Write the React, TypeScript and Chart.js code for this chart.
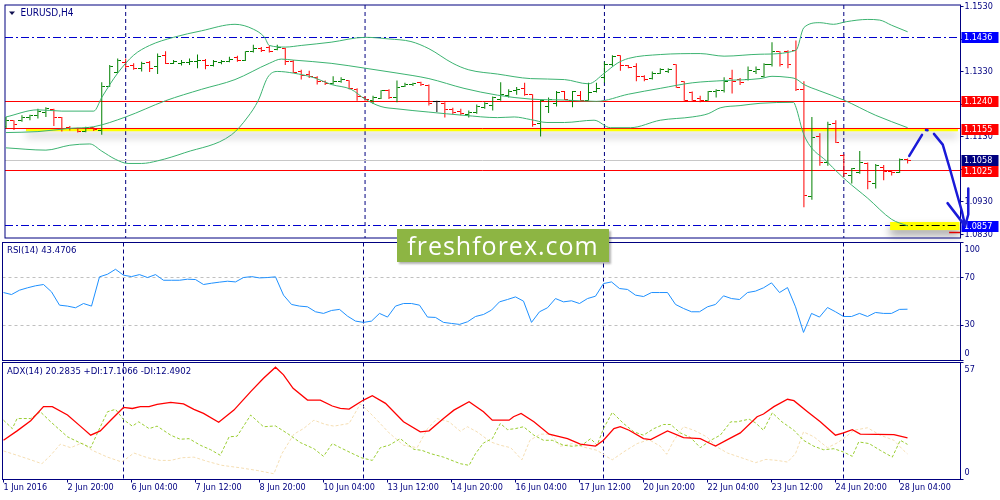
import { useEffect, useRef } from "react";
import { Chart, registerables } from "chart.js";

Chart.register(...registerables);

const FONT = '"DejaVu Sans Condensed", "DejaVu Sans", sans-serif';
const NAVY = "#000080";
const X_MIN = -0.125;
const X_MAX = 119.625;
const PRICE_MIN = 1.08187;
const PRICE_MAX = 1.15354;

// EURUSD H4 bars, index 0 = 1 Jun 12:00 ... 113 = 28 Jun 08:00
const opens = [
  1.1161, 1.1179, 1.1181, 1.1189, 1.1194, 1.1206, 1.1213, 1.1189, 1.1159, 1.1156,
  1.1146, 1.1158, 1.1149, 1.1286, 1.1329, 1.1359, 1.1349, 1.1341, 1.1359, 1.1346,
  1.1381, 1.1356, 1.1356, 1.1359, 1.1361, 1.1366, 1.1349, 1.1358, 1.1363, 1.1373,
  1.1366, 1.1393, 1.1401, 1.1406, 1.1399, 1.1401, 1.1363, 1.1331, 1.1323, 1.1313,
  1.1299, 1.1293, 1.1299, 1.1303, 1.1276, 1.1251, 1.1243, 1.1249, 1.1273, 1.1251,
  1.1285, 1.1291, 1.1296, 1.1289, 1.1238, 1.1233, 1.1213, 1.1209, 1.1199, 1.1206,
  1.1221, 1.1226, 1.1246, 1.1258, 1.1271, 1.1279, 1.1259, 1.1171, 1.1223, 1.1231,
  1.1269, 1.1243, 1.1256, 1.1243, 1.1269, 1.1311, 1.1351, 1.1379, 1.1348, 1.1346,
  1.1316, 1.1309, 1.1326, 1.1331, 1.1351, 1.1299, 1.1266, 1.1249, 1.1243, 1.1269,
  1.1271, 1.1309, 1.1306, 1.1306, 1.1331, 1.1316, 1.1351, 1.1391, 1.1393, 1.1396,
  1.1276, 1.0946, 1.1131, 1.1051, 1.1171, 1.1071, 1.1011, 1.1021, 1.1049, 1.0986,
  1.1036, 1.1023, 1.1021, 1.1061,
];
const highs = [
  1.1191, 1.1181, 1.1196, 1.1198, 1.1216, 1.1221, 1.1216, 1.1191, 1.1163, 1.1158,
  1.1161, 1.1159, 1.1298, 1.1351, 1.1371, 1.1371, 1.1356, 1.1361, 1.1363, 1.1386,
  1.1393, 1.1366, 1.1366, 1.1371, 1.1383, 1.1369, 1.1366, 1.1366, 1.1376, 1.1379,
  1.1393, 1.1413, 1.1406, 1.1411, 1.1413, 1.1404, 1.1366, 1.1336, 1.1333, 1.1316,
  1.1303, 1.1316, 1.1313, 1.1304, 1.1279, 1.1254, 1.1256, 1.1273, 1.1276, 1.1303,
  1.1296, 1.1296, 1.1299, 1.1291, 1.1241, 1.1236, 1.1219, 1.1216, 1.1211, 1.1229,
  1.1236, 1.1254, 1.1298, 1.1276, 1.1283, 1.1296, 1.1261, 1.1243, 1.1251, 1.1271,
  1.1271, 1.1271, 1.1271, 1.1296, 1.1296, 1.1361, 1.1381, 1.1381, 1.1351, 1.1356,
  1.1319, 1.1331, 1.1341, 1.1341, 1.1353, 1.1301, 1.1269, 1.1256, 1.1271, 1.1276,
  1.1313, 1.1336, 1.1311, 1.1346, 1.1346, 1.1356, 1.1421, 1.1393, 1.1396, 1.1426,
  1.1301, 1.1191, 1.1141, 1.1176, 1.1181, 1.1076, 1.1034, 1.1086, 1.1051, 1.1046,
  1.1043, 1.1026, 1.1063, 1.1063,
];
const lows = [
  1.1156, 1.1151, 1.1176, 1.1181, 1.1186, 1.1191, 1.1163, 1.1146, 1.1149, 1.1143,
  1.1144, 1.1148, 1.1136, 1.1283, 1.1326, 1.1341, 1.1336, 1.1331, 1.1329, 1.1323,
  1.1354, 1.1354, 1.1349, 1.1351, 1.1341, 1.1338, 1.1346, 1.1353, 1.1359, 1.1361,
  1.1363, 1.1389, 1.1391, 1.1389, 1.1396, 1.1351, 1.1326, 1.1306, 1.1311, 1.1291,
  1.1289, 1.1291, 1.1296, 1.1276, 1.1241, 1.1241, 1.1231, 1.1246, 1.1246, 1.1236,
  1.1283, 1.1286, 1.1286, 1.1226, 1.1206, 1.1189, 1.1199, 1.1196, 1.1189, 1.1201,
  1.1216, 1.1211, 1.1241, 1.1251, 1.1259, 1.1256, 1.1161, 1.1131, 1.1203, 1.1223,
  1.1243, 1.1221, 1.1241, 1.1241, 1.1266, 1.1296, 1.1346, 1.1333, 1.1341, 1.1301,
  1.1301, 1.1306, 1.1323, 1.1326, 1.1281, 1.1241, 1.1241, 1.1236, 1.1241, 1.1251,
  1.1266, 1.1263, 1.1289, 1.1303, 1.1323, 1.1313, 1.1346, 1.1346, 1.1341, 1.1271,
  1.0913, 1.0936, 1.1041, 1.1041, 1.1111, 1.1006, 1.0986, 1.1016, 1.0969, 1.0971,
  1.0996, 1.1011, 1.1019, 1.1048,
];
const closes = [
  1.1179, 1.1169, 1.1189, 1.1194, 1.1209, 1.1216, 1.1189, 1.1156, 1.1154, 1.1146,
  1.1158, 1.1151, 1.1286, 1.1346, 1.1366, 1.1346, 1.1341, 1.1356, 1.1341, 1.1376,
  1.1356, 1.1361, 1.1359, 1.1363, 1.1366, 1.1349, 1.1361, 1.1361, 1.1369, 1.1366,
  1.1391, 1.1403, 1.1396, 1.1393, 1.1406, 1.1363, 1.1329, 1.1319, 1.1316, 1.1299,
  1.1293, 1.1301, 1.1306, 1.1279, 1.1253, 1.1244, 1.1251, 1.1271, 1.1251, 1.1283,
  1.1291, 1.1294, 1.1291, 1.1231, 1.1238, 1.1213, 1.1206, 1.1201, 1.1206, 1.1223,
  1.1231, 1.1251, 1.1259, 1.1269, 1.1276, 1.1261, 1.1169, 1.1241, 1.1246, 1.1266,
  1.1246, 1.1269, 1.1243, 1.1266, 1.1279, 1.1353, 1.1376, 1.1349, 1.1343, 1.1316,
  1.1306, 1.1326, 1.1336, 1.1336, 1.1283, 1.1243, 1.1243, 1.1241, 1.1269, 1.1273,
  1.1301, 1.1301, 1.1296, 1.1333, 1.1336, 1.1351, 1.1393, 1.1353, 1.1351, 1.1276,
  1.0948, 1.1129, 1.1051, 1.1169, 1.1113, 1.1016, 1.1031, 1.1051, 1.0991, 1.1041,
  1.1023, 1.1019, 1.1061, 1.1058,
];

// Bollinger bands (20), read at knots
const upperX = [0, 4, 7, 11, 12, 14, 16, 18, 21, 24.5, 28.7, 31, 32.4, 33, 35, 37, 40.75, 45, 48, 50.75, 53, 56, 58, 61.6, 65.75, 70, 73, 75, 76.6, 78, 82, 87, 90, 94.5, 99, 100, 102, 103.7, 105.3, 108, 109.5, 111, 113];
const upperY = [1.1191, 1.1213, 1.1209, 1.1209, 1.1251, 1.1326, 1.1381, 1.1411, 1.1436, 1.1456, 1.1476, 1.1461, 1.1436, 1.1411, 1.1406, 1.1411, 1.1421, 1.1436, 1.1431, 1.1423, 1.1401, 1.1356, 1.1336, 1.1323, 1.1309, 1.1306, 1.1293, 1.1326, 1.1356, 1.1371, 1.1383, 1.1386, 1.1378, 1.1384, 1.1396, 1.1466, 1.1481, 1.1476, 1.1484, 1.1491, 1.1489, 1.1473, 1.1453];
const middleX = [0, 4, 8, 11, 15, 20, 24.5, 28.7, 33, 34.5, 36, 40.75, 45, 49, 53, 57.4, 61.6, 65.75, 70, 74, 78, 82, 86, 90, 94.5, 96, 98, 99, 100, 102, 105, 109, 113];
const middleY = [1.1143, 1.1146, 1.1156, 1.1161, 1.1191, 1.1241, 1.1276, 1.1306, 1.1356, 1.1369, 1.1366, 1.1356, 1.1341, 1.1326, 1.1309, 1.1279, 1.1258, 1.1246, 1.1243, 1.1239, 1.1261, 1.1279, 1.1296, 1.1303, 1.1309, 1.1316, 1.1313, 1.1308, 1.1291, 1.1271, 1.1243, 1.1196, 1.1158];
const lowerX = [0, 5, 8, 10.5, 12, 13.7, 15.3, 17, 19, 22.4, 28.25, 30.3, 31.6, 32.8, 34, 36, 38.7, 40.75, 43.25, 45, 47, 49, 53, 57.4, 61.6, 63.7, 65.75, 67.8, 70, 73.7, 75.75, 78.25, 82, 86, 88, 89.5, 92, 94.5, 98.7, 99, 100, 103, 105.3, 108, 111, 113];
const lowerY = [1.1096, 1.1089, 1.1104, 1.1108, 1.1086, 1.1061, 1.1048, 1.1048, 1.1056, 1.1081, 1.1136, 1.1191, 1.1241, 1.1313, 1.1331, 1.1326, 1.1311, 1.1291, 1.1276, 1.1246, 1.1223, 1.1216, 1.1206, 1.1196, 1.1189, 1.1191, 1.1183, 1.1174, 1.1174, 1.1181, 1.1158, 1.1158, 1.1181, 1.1191, 1.1201, 1.1219, 1.1226, 1.1233, 1.1236, 1.1221, 1.1136, 1.1051, 1.0996, 1.0941, 1.0876, 1.0856];

// RSI(14), one value per bar
const rsiValues = [
  57.6, 55.9, 59.6, 61.6, 63.3, 64.4, 58.2, 46.9, 46.1, 44.7, 48.3, 46.1,
  70.9, 73.1, 77.3, 72.3, 71.1, 72.8, 70.3, 72.8, 68.0, 68.0, 68.0, 68.9,
  68.6, 64.4, 65.5, 66.4, 67.2, 66.6, 70.3, 71.1, 70.0, 70.3, 70.9, 55.4,
  47.5, 46.1, 45.5, 41.3, 39.9, 42.4, 43.3, 37.6, 33.4, 32.3, 33.4, 39.9,
  36.8, 46.1, 48.3, 48.3, 46.9, 36.8, 36.5, 32.3, 31.4, 30.6, 32.8, 37.3,
  39.0, 42.7, 49.7, 51.7, 53.9, 50.3, 32.3, 41.3, 44.7, 52.5, 49.7, 50.6,
  48.3, 52.5, 54.5, 65.2, 66.6, 61.0, 60.2, 55.4, 54.2, 57.6, 57.6, 57.6,
  47.5, 44.1, 41.3, 41.3, 45.5, 47.5, 54.8, 52.5, 51.7, 57.6, 58.8, 61.6,
  65.8, 57.6, 61.8, 45.5, 23.8, 39.9, 36.8, 44.9, 41.3, 37.3, 37.3, 39.9,
  37.3, 40.7, 39.9, 39.9, 43.3, 43.47,
];
const rsiTicks = [0, 30, 70, 100];
const rsiLevels = [30, 70];

// ADX(14) with +DI / -DI, read at knots
const adxX = [0, 1.7, 3.4, 5, 6.1, 8, 9.6, 10.9, 12.1, 13.4, 15, 16.1, 17.1, 18.2, 19.2, 20.9, 22.5, 23.8, 25, 26.9, 28.8, 30.9, 32.5, 34, 35, 36.2, 38, 39.6, 41.1, 42.1, 43.2, 45, 46.1, 47.75, 50, 52.1, 53.2, 55, 56.3, 58.2, 60, 61.1, 62.1, 63.2, 63.75, 64.7, 66.3, 68.2, 70.5, 72.1, 74, 75, 76.3, 77.1, 78.2, 80, 80.9, 83, 85, 87.1, 88.2, 89, 90.5, 92.1, 94.2, 95, 96.3, 98, 98.8, 100.5, 102.1, 104, 105, 106.1, 107.1, 111.3, 113];
const adxY = [19.1, 23.7, 28.6, 35.5, 35.5, 31.4, 26.0, 21.6, 23.7, 28.9, 35.1, 34.6, 35.5, 35.5, 36.6, 37.6, 36.8, 34.2, 32.2, 27.9, 33.8, 42.8, 49.3, 54.7, 51.0, 44.4, 38.7, 38.7, 35.8, 34.6, 34.3, 38.7, 40.8, 37.1, 28.1, 23.2, 23.7, 29.7, 33.8, 37.9, 33.0, 28.9, 28.9, 28.9, 30.6, 32.2, 28.1, 22.1, 19.9, 17.2, 16.3, 19.1, 24.8, 25.7, 24.0, 19.9, 19.4, 23.7, 20.4, 19.9, 17.8, 16.3, 19.4, 22.7, 30.6, 31.9, 35.5, 39.1, 38.4, 33.0, 28.1, 21.6, 22.7, 24.3, 22.1, 21.9, 20.28];
const plusDiX = [0, 1.1, 1.7, 3.4, 4.6, 5.9, 8, 9.6, 10.9, 11.9, 13, 14, 15, 16.1, 16.9, 18.2, 19.2, 20.9, 22.1, 23.2, 24.6, 25.9, 27.1, 28.2, 29.2, 30.9, 32.5, 34, 35.5, 37.1, 38.8, 40, 41.1, 42.1, 43.8, 44.8, 46.1, 47.1, 48.2, 49.6, 51.3, 52.3, 53.4, 55, 57.1, 58.2, 59, 60, 61.1, 62.1, 63, 64, 65, 66.3, 67.5, 68.6, 70, 71.1, 72.3, 73.4, 74.2, 75, 76.1, 77.5, 78.8, 80, 81.3, 82.5, 83.4, 84.6, 85.9, 87.1, 88.4, 89.6, 90.9, 91.7, 93.2, 94, 95, 96.1, 97.3, 98.8, 100, 101.3, 102.5, 103.8, 105, 106.1, 106.9, 108.2, 109.6, 111.1, 112.1, 113];
const plusDiY = [28.9, 24.8, 29.7, 29.7, 33.0, 28.1, 20.8, 17.8, 15.5, 24.0, 33.0, 34.2, 29.2, 26.0, 28.1, 24.8, 26.0, 21.6, 19.6, 19.9, 16.7, 14.5, 11.8, 20.8, 21.1, 31.4, 25.7, 26.1, 22.4, 18.0, 15.0, 11.3, 17.5, 15.5, 12.3, 10.5, 9.3, 15.5, 16.7, 19.9, 14.7, 14.2, 12.6, 10.9, 7.7, 6.9, 12.6, 17.8, 19.9, 27.3, 24.3, 24.8, 25.7, 21.6, 19.1, 19.1, 16.7, 16.2, 16.7, 19.9, 16.7, 24.8, 32.7, 27.3, 23.2, 21.6, 24.8, 26.8, 26.8, 22.7, 20.4, 15.5, 19.1, 21.6, 28.1, 28.1, 29.4, 27.6, 24.0, 32.5, 28.1, 24.0, 19.1, 16.2, 14.5, 15.0, 13.4, 11.3, 18.3, 17.5, 14.2, 10.9, 19.1, 17.11];
const minusDiX = [0, 1.7, 3.4, 4.8, 5.9, 7.1, 8.4, 9.8, 11.1, 13, 14.8, 16.3, 18, 19.6, 20.9, 22.3, 23.8, 25.5, 27.3, 29.6, 31.7, 33.8, 34.8, 36.3, 37.5, 38.8, 40.25, 41.3, 43.2, 44.6, 45.25, 46.5, 48.2, 50, 51.7, 53, 54.2, 55.7, 57.1, 58, 59.2, 60.9, 62.1, 63.4, 64.8, 65.8, 67.1, 68.4, 69.6, 71.1, 72.5, 74.2, 75.5, 76.1, 77.5, 79.2, 80.7, 82.1, 82.9, 83.8, 85, 86.3, 87.9, 89.2, 90.5, 91.7, 93, 94, 95.3, 96.7, 98, 99, 100, 101.3, 103, 104.2, 105, 106.3, 108, 109.6, 111.3, 112.5, 113];
const minusDiY = [13.9, 11.8, 9.6, 7.7, 11.8, 17.2, 15.5, 17.8, 14.2, 10.9, 8.5, 12.9, 10.6, 9.3, 9.3, 10.6, 10.9, 8.8, 6.9, 5.7, 4.4, 2.8, 12.6, 22.1, 24.8, 28.9, 26.8, 26.0, 27.3, 36.8, 34.6, 29.7, 22.7, 16.7, 15.5, 24.8, 29.7, 28.1, 23.5, 25.7, 23.2, 18.3, 16.7, 15.5, 9.6, 19.1, 22.1, 22.1, 16.2, 17.5, 15.8, 14.2, 10.9, 9.6, 13.4, 17.5, 19.4, 16.2, 12.3, 19.1, 25.7, 24.0, 20.8, 15.8, 12.9, 11.3, 9.6, 8.2, 9.8, 9.3, 8.5, 12.6, 23.2, 20.8, 15.5, 17.8, 19.9, 24.0, 25.2, 21.6, 19.1, 14.2, 12.49];
const adxTicks = [0, 57];

// time axis
const xTickIdx = [0, 8, 16, 24, 32, 40, 48, 56, 64, 72, 80, 88, 96, 104, 112];
const xTickLabels = [
  "1 Jun 2016", "2 Jun 20:00", "6 Jun 04:00", "7 Jun 12:00", "8 Jun 20:00",
  "10 Jun 04:00", "13 Jun 12:00", "14 Jun 20:00", "16 Jun 04:00", "17 Jun 12:00",
  "20 Jun 20:00", "22 Jun 04:00", "23 Jun 12:00", "24 Jun 20:00", "28 Jun 04:00",
];
const weekStartIdx = [15, 45, 75, 105];

// price axis and drawn objects
const priceTicks = [1.083, 1.093, 1.103, 1.113, 1.123, 1.133, 1.143, 1.153];
const levelValues = [1.1436, 1.124, 1.1155, 1.1058, 1.1025, 1.0857];
const levelLineEnd = [X_MAX, X_MAX, X_MAX, X_MAX, X_MAX, 110.8];
const zoneX0 = [2.5, 110.8];
const zoneX1 = [119.3, 119.5];
const zoneTop = [1.1155, 1.0868];
const zoneBottom = [1.1147, 1.0843];
const segX0 = [112, 118.2];
const segX1 = [119.4, 119.6];
const segY = [1.0857, 1.0836];
const arrowX = [113.2, 114.8, 114.8, 115.3, 115.5, 115.5, 116.3, 117.4, 118.3, 119.1, 119.8, 120.2, 120.2, 118.0, 120.2, 120.2, 120.6, 120.6, 120.2];
const arrowY = [1.1071, 1.1136, null, 1.1151, 1.115, null, 1.1139, 1.1106, 1.1031, 1.0961, 1.0901, 1.0856, null, 1.0926, 1.0856, null, 1.0971, 1.0891, 1.0856];

const LEVEL_STYLE = [
  { line: "#0000cd", dash: [8, 3, 2, 3], box: "#0000ff" },
  { line: "#ff0000", dash: [], box: "#ff0000" },
  { line: "#ff0000", dash: [], box: "#ff0000" },
  { line: "#c8c8c8", dash: [], box: "#000080" },
  { line: "#ff0000", dash: [], box: "#ff0000" },
  { line: "#0000cd", dash: [8, 3, 2, 3], box: "#0000ff" },
];
const SEG_STYLE = [
  { color: "#000000", dash: [8, 3, 2, 3], width: 1 },
  { color: "#e00000", dash: [], width: 1.5 },
];

const pts = (xs: number[], ys: (number | null)[]) => xs.map((x, i) => ({ x, y: ys[i] }));
const crisp = (v: number) => Math.floor(v) + 0.5;

const drawSeparators = (chart: any) => {
  const { ctx, chartArea: a, scales } = chart;
  ctx.save();
  ctx.strokeStyle = NAVY;
  ctx.lineWidth = 1;
  ctx.setLineDash([4, 3]);
  weekStartIdx.forEach((i) => {
    const px = scales.x.getPixelForValue(i);
    ctx.beginPath();
    ctx.moveTo(px, a.top);
    ctx.lineTo(px, a.bottom);
    ctx.stroke();
  });
  ctx.restore();
};

const drawFrame = (chart: any) => {
  const { ctx, chartArea: a } = chart;
  ctx.save();
  ctx.strokeStyle = NAVY;
  ctx.lineWidth = 1;
  ctx.strokeRect(a.left, a.top, a.width, a.height);
  ctx.restore();
};

const drawPaneTitle = (chart: any, text: string, dy: number) => {
  const { ctx, chartArea: a } = chart;
  ctx.save();
  ctx.font = `9.5px ${FONT}`;
  ctx.fillStyle = NAVY;
  ctx.textBaseline = "middle";
  ctx.fillText(text, a.left + 4.5, a.top + dy);
  ctx.restore();
};

const drawSideLabels = (chart: any, values: number[]) => {
  const { ctx, chartArea: a, scales } = chart;
  ctx.save();
  ctx.font = `9px ${FONT}`;
  ctx.fillStyle = NAVY;
  ctx.textBaseline = "middle";
  values.forEach((v) => {
    const py = Math.min(Math.max(scales.y.getPixelForValue(v), a.top + 7), a.bottom - 7);
    ctx.fillText(String(v), a.right + 4, py);
  });
  ctx.restore();
};

const pricePanePlugin = {
  id: "pricePane",
  beforeDatasetsDraw(chart: any) {
    const { ctx, chartArea: a, scales } = chart;
    const { x, y } = scales;
    drawSeparators(chart);
    ctx.save();
    zoneX0.forEach((x0, k) => {
      const l = x.getPixelForValue(x0);
      const r = x.getPixelForValue(zoneX1[k]);
      const t = y.getPixelForValue(zoneTop[k]);
      const b = y.getPixelForValue(zoneBottom[k]);
      ctx.save();
      ctx.shadowColor = "rgba(0,0,0,0.4)";
      ctx.shadowBlur = 8;
      ctx.shadowOffsetY = 5;
      ctx.fillStyle = "#ffff00";
      ctx.fillRect(l, t, r - l, b - t);
      ctx.restore();
    });
    ctx.lineWidth = 1;
    levelValues.forEach((v, k) => {
      const py = crisp(y.getPixelForValue(v));
      ctx.strokeStyle = LEVEL_STYLE[k].line;
      ctx.setLineDash(LEVEL_STYLE[k].dash);
      ctx.beginPath();
      ctx.moveTo(a.left, py);
      ctx.lineTo(x.getPixelForValue(levelLineEnd[k]), py);
      ctx.stroke();
    });
    segY.forEach((v, k) => {
      const py = crisp(y.getPixelForValue(v));
      ctx.strokeStyle = SEG_STYLE[k].color;
      ctx.lineWidth = SEG_STYLE[k].width;
      ctx.setLineDash(SEG_STYLE[k].dash);
      ctx.beginPath();
      ctx.moveTo(x.getPixelForValue(segX0[k]), py);
      ctx.lineTo(x.getPixelForValue(segX1[k]), py);
      ctx.stroke();
    });
    ctx.setLineDash([]);
    ctx.font = `9px ${FONT}`;
    ctx.textBaseline = "middle";
    levelValues.forEach((v, k) => {
      const py = Math.round(y.getPixelForValue(v));
      ctx.fillStyle = LEVEL_STYLE[k].box;
      ctx.fillRect(a.right + 1, py - 5, 37, 11);
      ctx.fillStyle = "#ffffff";
      ctx.fillText(v.toFixed(4), a.right + 3.5, py + 0.5);
    });
    ctx.restore();
    drawFrame(chart);
  },
  afterDraw(chart: any) {
    const { ctx, chartArea: a } = chart;
    ctx.save();
    ctx.fillStyle = "#101050";
    ctx.beginPath();
    ctx.moveTo(a.left + 4, a.top + 6.5);
    ctx.lineTo(a.left + 10, a.top + 6.5);
    ctx.lineTo(a.left + 7, a.top + 10);
    ctx.closePath();
    ctx.fill();
    ctx.restore();
    const { ctx: c2 } = chart;
    c2.save();
    c2.font = `10px ${FONT}`;
    c2.fillStyle = NAVY;
    c2.textBaseline = "middle";
    c2.fillText("EURUSD,H4", a.left + 15.5, a.top + 8);
    c2.restore();
  },
};

const rsiPanePlugin = {
  id: "rsiPane",
  beforeDatasetsDraw(chart: any) {
    const { ctx, chartArea: a, scales } = chart;
    drawSeparators(chart);
    ctx.save();
    ctx.strokeStyle = "#c0c0c0";
    ctx.lineWidth = 1;
    ctx.setLineDash([3, 3]);
    rsiLevels.forEach((v) => {
      const py = crisp(scales.y.getPixelForValue(v));
      ctx.beginPath();
      ctx.moveTo(a.left, py);
      ctx.lineTo(a.right, py);
      ctx.stroke();
    });
    ctx.restore();
    drawSideLabels(chart, rsiTicks);
    drawFrame(chart);
  },
  afterDraw(chart: any) {
    drawPaneTitle(chart, "RSI(14) 43.4706", 8.5);
  },
};

const adxPanePlugin = {
  id: "adxPane",
  beforeDatasetsDraw(chart: any) {
    drawSeparators(chart);
    drawSideLabels(chart, adxTicks);
    drawFrame(chart);
  },
  afterDraw(chart: any) {
    drawPaneTitle(chart, "ADX(14) 20.2835 +DI:17.1066 -DI:12.4902", 9.5);
  },
};

const xAxis = (display: boolean) => ({
  type: "linear" as const,
  min: X_MIN,
  max: X_MAX,
  offset: false,
  display,
});

const rightAxis = (min: number, max: number, ticks: number[], labels: boolean) => ({
  position: "right" as const,
  min,
  max,
  afterBuildTicks: (s: any) => {
    s.ticks = ticks.map((v) => ({ value: v }));
  },
  afterFit: (s: any) => {
    s.width = 39.5;
    s.paddingTop = 0;
    s.paddingBottom = 0;
  },
  ticks: {
    display: labels,
    padding: 1,
    color: NAVY,
    font: { family: FONT, size: 9 },
    callback: (v: any) => Number(v).toFixed(4),
  },
  grid: { drawOnChartArea: false, drawTicks: true, tickLength: 3, color: NAVY },
  border: { display: false },
});

const baseOptions = {
  animation: false as const,
  responsive: true,
  maintainAspectRatio: false,
  events: [],
  plugins: { legend: { display: false }, tooltip: { enabled: false } },
};

export default function App() {
  const priceRef = useRef<HTMLCanvasElement | null>(null);
  const rsiRef = useRef<HTMLCanvasElement | null>(null);
  const adxRef = useRef<HTMLCanvasElement | null>(null);

  useEffect(() => {
    if (!priceRef.current || !rsiRef.current || !adxRef.current) return;

    const barColor = (i: number) =>
      closes[i] > opens[i] ? "#008000" : closes[i] < opens[i] ? "#ff0000" : "#000000";

    const makeTick = (color: string, left: boolean) => {
      const c = document.createElement("canvas");
      c.width = 7;
      c.height = 1;
      const g = c.getContext("2d");
      if (g) {
        g.fillStyle = color;
        g.fillRect(left ? 0 : 4, 0, 3, 1);
      }
      return c;
    };
    const tickCache: Record<string, HTMLCanvasElement> = {};
    const tickFor = (i: number, left: boolean) => {
      const key = barColor(i) + (left ? "L" : "R");
      if (!tickCache[key]) tickCache[key] = makeTick(barColor(i), left);
      return tickCache[key];
    };

    const band = (xs: number[], ys: number[]) => ({
      type: "line" as const,
      data: pts(xs, ys),
      borderColor: "#3cb371",
      borderWidth: 1,
      pointRadius: 0,
      cubicInterpolationMode: "monotone" as const,
      order: 1,
    });

    const priceChart = new Chart(priceRef.current, {
      type: "line",
      data: {
        datasets: [
          {
            type: "line",
            data: pts(arrowX, arrowY),
            borderColor: "#1a1ad8",
            borderWidth: 2.5,
            borderCapStyle: "round",
            borderJoinStyle: "round",
            pointRadius: 0,
            spanGaps: false,
            clip: false,
            order: 0,
          },
          band(upperX, upperY),
          band(middleX, middleY),
          band(lowerX, lowerY),
          {
            type: "line",
            data: pts(opens.map((_, i) => i), opens),
            showLine: false,
            pointRadius: 3,
            pointStyle: (c: any) => tickFor(c.dataIndex, true),
            order: 2,
          },
          {
            type: "line",
            data: pts(closes.map((_, i) => i), closes),
            showLine: false,
            pointRadius: 3,
            pointStyle: (c: any) => tickFor(c.dataIndex, false),
            order: 2,
          },
          {
            type: "bar",
            data: highs.map((h, i) => ({ x: i, y: [lows[i], h] })),
            backgroundColor: (c: any) => barColor(c.dataIndex),
            barThickness: 1,
            borderWidth: 0,
            inflateAmount: 0,
            order: 3,
          },
        ],
      } as any,
      options: {
        ...baseOptions,
        layout: { padding: { left: 2.5, top: 2.5, right: 0, bottom: 2.5 } },
        scales: {
          x: xAxis(false),
          y: rightAxis(PRICE_MIN, PRICE_MAX, priceTicks, true),
        },
      } as any,
      plugins: [pricePanePlugin],
    });

    const rsiChart = new Chart(rsiRef.current, {
      type: "line",
      data: {
        datasets: [
          {
            data: pts(rsiValues.map((_, i) => i), rsiValues),
            borderColor: "#1e90ff",
            borderWidth: 1,
            pointRadius: 0,
          },
        ],
      } as any,
      options: {
        ...baseOptions,
        layout: { padding: { left: 2.5, top: 2.5, right: 0, bottom: 1.5 } },
        scales: { x: xAxis(false), y: rightAxis(0, 100, rsiTicks, false) },
      } as any,
      plugins: [rsiPanePlugin],
    });

    const adxChart = new Chart(adxRef.current, {
      type: "line",
      data: {
        datasets: [
          {
            data: pts(adxX, adxY),
            borderColor: "#ff0000",
            borderWidth: 1.3,
            pointRadius: 0,
          },
          {
            data: pts(plusDiX, plusDiY),
            borderColor: "#9acd32",
            borderWidth: 1,
            borderDash: [3, 2],
            pointRadius: 0,
          },
          {
            data: pts(minusDiX, minusDiY),
            borderColor: "#f5deb3",
            borderWidth: 1,
            borderDash: [3, 2],
            pointRadius: 0,
          },
        ],
      } as any,
      options: {
        ...baseOptions,
        layout: { padding: { left: 2.5, top: 2.5, right: 0, bottom: 0 } },
        scales: {
          x: {
            ...xAxis(true),
            afterBuildTicks: (s: any) => {
              s.ticks = xTickIdx.map((v) => ({ value: v }));
            },
            afterFit: (s: any) => {
              s.height = 20.5;
              s.paddingLeft = 0;
              s.paddingRight = 0;
            },
            ticks: {
              autoSkip: false,
              maxRotation: 0,
              align: "start",
              padding: 0,
              color: NAVY,
              font: { family: FONT, size: 9 },
              callback: (_v: any, i: number) => xTickLabels[i],
            },
            grid: { drawOnChartArea: false, drawTicks: true, tickLength: 3, color: NAVY },
            border: { display: false },
          },
          y: rightAxis(0, 57, adxTicks, false),
        },
      } as any,
      plugins: [adxPanePlugin],
    });

    return () => {
      priceChart.destroy();
      rsiChart.destroy();
      adxChart.destroy();
    };
  }, []);

  return (
    <div style={{ position: "absolute", left: 0, top: 0, width: 1000, height: 500, background: "#ffffff", overflow: "hidden" }}>
      <div style={{ position: "absolute", left: 0, top: 0, width: 1000, height: 243 }}>
        <canvas ref={priceRef} />
      </div>
      <div style={{ position: "absolute", left: 0, top: 240, width: 1000, height: 122 }}>
        <canvas ref={rsiRef} />
      </div>
      <div style={{ position: "absolute", left: 0, top: 360, width: 1000, height: 140 }}>
        <canvas ref={adxRef} />
      </div>
      <div
        style={{
          position: "absolute",
          left: 397,
          top: 229,
          width: 212,
          height: 33,
          background: "#8db543",
          boxShadow: "2px 2px 2px rgba(0,0,0,0.3)",
          color: "#ffffff",
          font: '25px "Open Sans", sans-serif',
          letterSpacing: 1,
          lineHeight: "33px",
          textAlign: "center",
        }}
      >
        freshforex.com
      </div>
    </div>
  );
}
